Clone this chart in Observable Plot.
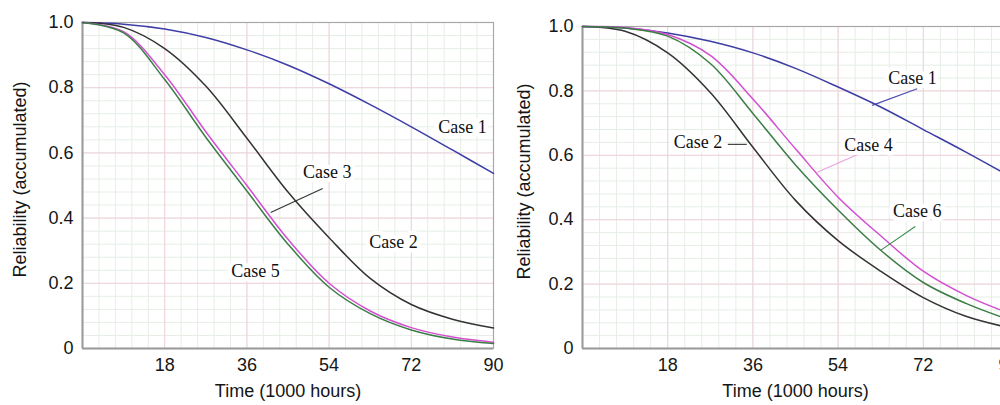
<!DOCTYPE html>
<html><head><meta charset="utf-8">
<script src="https://cdn.jsdelivr.net/npm/d3@7"></script>
<script src="https://cdn.jsdelivr.net/npm/@observablehq/plot@0.6"></script>
<style>
html,body{margin:0;padding:0;background:#fff;overflow:hidden;}
#wrap{position:relative;width:1000px;height:405px;overflow:hidden;background:#fff;}
#left{position:absolute;left:0;top:0;width:520px;height:405px;}
#right{position:absolute;left:500px;top:0;width:540px;height:405px;}
#wrap svg{max-width:none !important;overflow:visible;}
</style></head><body><div id="wrap"><div id="left"></div><div id="right"></div></div>
<script>
// ---- shared axes ----
const times = [0, 9, 18, 27, 36, 45, 54, 63, 72, 81, 90];
const xTicks = [18, 36, 54, 72, 90];
const yTicks = [0, 0.2, 0.4, 0.6, 0.8, 1.0];
const yTickLabels = ["0", "0.2", "0.4", "0.6", "0.8", "1.0"];
const xTitle = "Time (1000 hours)";
const yTitle = "Reliability (accumulated)";

// ---- left panel series (reliability at each time) ----
const leftCase1 = [1, 0.995, 0.98, 0.954, 0.916, 0.869, 0.812, 0.748, 0.68, 0.609, 0.537];
const leftCase2 = [1, 0.985, 0.92, 0.805, 0.645, 0.48, 0.34, 0.215, 0.135, 0.09, 0.063];
const leftCase3 = [1, 0.972, 0.84, 0.665, 0.50, 0.335, 0.20, 0.115, 0.064, 0.035, 0.019];
const leftCase5 = [1, 0.968, 0.825, 0.648, 0.483, 0.32, 0.188, 0.107, 0.057, 0.029, 0.015];

// ---- right panel series ----
const rightCase1 = [1, 0.995, 0.98, 0.954, 0.918, 0.87, 0.812, 0.75, 0.68, 0.61, 0.537];
const rightCase2 = [1, 0.985, 0.918, 0.795, 0.625, 0.46, 0.335, 0.24, 0.158, 0.10, 0.065];
const rightCase4 = [1, 0.997, 0.975, 0.91, 0.775, 0.62, 0.47, 0.35, 0.24, 0.165, 0.11];
const rightCase6 = [1, 0.995, 0.97, 0.885, 0.73, 0.57, 0.43, 0.305, 0.205, 0.14, 0.09];

// ---- series colours ----
const caseColors = {"Case 1": "#3d3da6", "Case 2": "#333333", "Case 3": "#d24fd2", "Case 4": "#d24fd2", "Case 5": "#3b7d46", "Case 6": "#3b7d46"};
const leaderColors = {"Case 1": "#4a4ab0", "Case 2": "#333333", "Case 3": "#333333", "Case 4": "#eaa0de", "Case 6": "#3b8d50"};

// ---- annotations (data coordinates) ----
const leftLabelText = ["Case 1", "Case 3", "Case 2", "Case 5"];
const leftLabelT = [83.2, 53.6, 68.1, 37.9];
const leftLabelR = [0.678, 0.54, 0.325, 0.236];
const leftLeaderCase = ["Case 3"];
const leftLeaderT1 = [52.6], leftLeaderR1 = [0.491], leftLeaderT2 = [41.2], leftLeaderR2 = [0.417];

const rightLabelText = ["Case 1", "Case 4", "Case 2", "Case 6"];
const rightLabelT = [69.7, 60.4, 24.4, 70.7];
const rightLabelR = [0.839, 0.63, 0.64, 0.425];
const rightLeaderCase = ["Case 1", "Case 4", "Case 2", "Case 6"];
const rightLeaderT1 = [70.7, 58.7, 30.7, 70.3], rightLeaderR1 = [0.807, 0.606, 0.634, 0.379];
const rightLeaderT2 = [61.2, 49.6, 34.7, 62.9], rightLeaderR2 = [0.755, 0.547, 0.634, 0.304];

function rows(seriesMap) {
  const out = [];
  for (const [name, vals] of Object.entries(seriesMap)) {
    vals.forEach((r, i) => out.push({name, t: times[i], r}));
  }
  return out;
}

function panel({series, labels, leaders, marginTop, width, marginRight, yTitleDx}) {
  const minorX = d3.range(0, 90.001, 3.6);
  const minorY = d3.range(0, 1.0001, 0.04);
  return Plot.plot({
    width, height: 405,
    marginLeft: 82, marginRight, marginTop, marginBottom: 57,
    x: {domain: [0, 90]},
    y: {domain: [0, 1]},
    style: {fontFamily: "'Liberation Sans', Arial, sans-serif", fontSize: "18px", color: "#151515", background: "transparent"},
    marks: [
      Plot.ruleX(minorX, {stroke: "#e5eee5", strokeWidth: 1}),
      Plot.ruleY(minorY, {stroke: "#e5eee5", strokeWidth: 1}),
      Plot.ruleX(xTicks, {stroke: "#f0d2dc", strokeWidth: 1}),
      Plot.ruleY(yTicks, {stroke: "#f0d2dc", strokeWidth: 1}),
      Plot.frame({stroke: "#a8a8a8", strokeWidth: 1.2}),
      Plot.ruleX([0], {stroke: "#9a9a9a", strokeWidth: 2}),
      Plot.ruleY([0], {stroke: "#9a9a9a", strokeWidth: 2}),
      Plot.line(rows(series), {x: "t", y: "r", z: "name", stroke: d => caseColors[d.name], strokeWidth: 1.5, curve: "catmull-rom"}),
      Plot.link(leaders, {x1: "t1", y1: "r1", x2: "t2", y2: "r2", stroke: d => leaderColors[d.name], strokeWidth: 1.1}),
      Plot.text(labels, {x: "t", y: "r", text: "text", fontFamily: "'Liberation Serif', 'Times New Roman', serif", fontSize: 18, fill: "#111", stroke: "white", strokeWidth: 9, paintOrder: "stroke"}),
      Plot.axisX({ticks: xTicks, tickSize: 0, tickPadding: 10, label: null, fontSize: 18}),
      Plot.axisY({ticks: yTicks, tickSize: 0, tickPadding: 9, label: null, fontSize: 18, tickFormat: d => yTickLabels[yTicks.indexOf(d)]}),
      Plot.text([xTitle], {frameAnchor: "bottom", dy: 48, fontSize: 18, fill: "#151515"}),
      Plot.text([yTitle], {frameAnchor: "left", textAnchor: "middle", dx: yTitleDx, dy: -6, rotate: -90, fontSize: 18, fill: "#151515"})
    ]
  });
}

const leftLabels = leftLabelText.map((text, i) => ({text, t: leftLabelT[i], r: leftLabelR[i]}));
const leftLeaders = leftLeaderCase.map((name, i) => ({name, t1: leftLeaderT1[i], r1: leftLeaderR1[i], t2: leftLeaderT2[i], r2: leftLeaderR2[i]}));
const rightLabels = rightLabelText.map((text, i) => ({text, t: rightLabelT[i], r: rightLabelR[i]}));
const rightLeaders = rightLeaderCase.map((name, i) => ({name, t1: rightLeaderT1[i], r1: rightLeaderR1[i], t2: rightLeaderT2[i], r2: rightLeaderR2[i]}));

document.getElementById("left").append(panel({
  series: {"Case 1": leftCase1, "Case 2": leftCase2, "Case 3": leftCase3, "Case 5": leftCase5},
  labels: leftLabels, leaders: leftLeaders,
  marginTop: 22, width: 520, marginRight: 27, yTitleDx: -62
}));
document.getElementById("right").append(panel({
  series: {"Case 1": rightCase1, "Case 2": rightCase2, "Case 4": rightCase4, "Case 6": rightCase6},
  labels: rightLabels, leaders: rightLeaders,
  marginTop: 26, width: 540, marginRight: 32, yTitleDx: -58
}));
</script>
</body></html>
